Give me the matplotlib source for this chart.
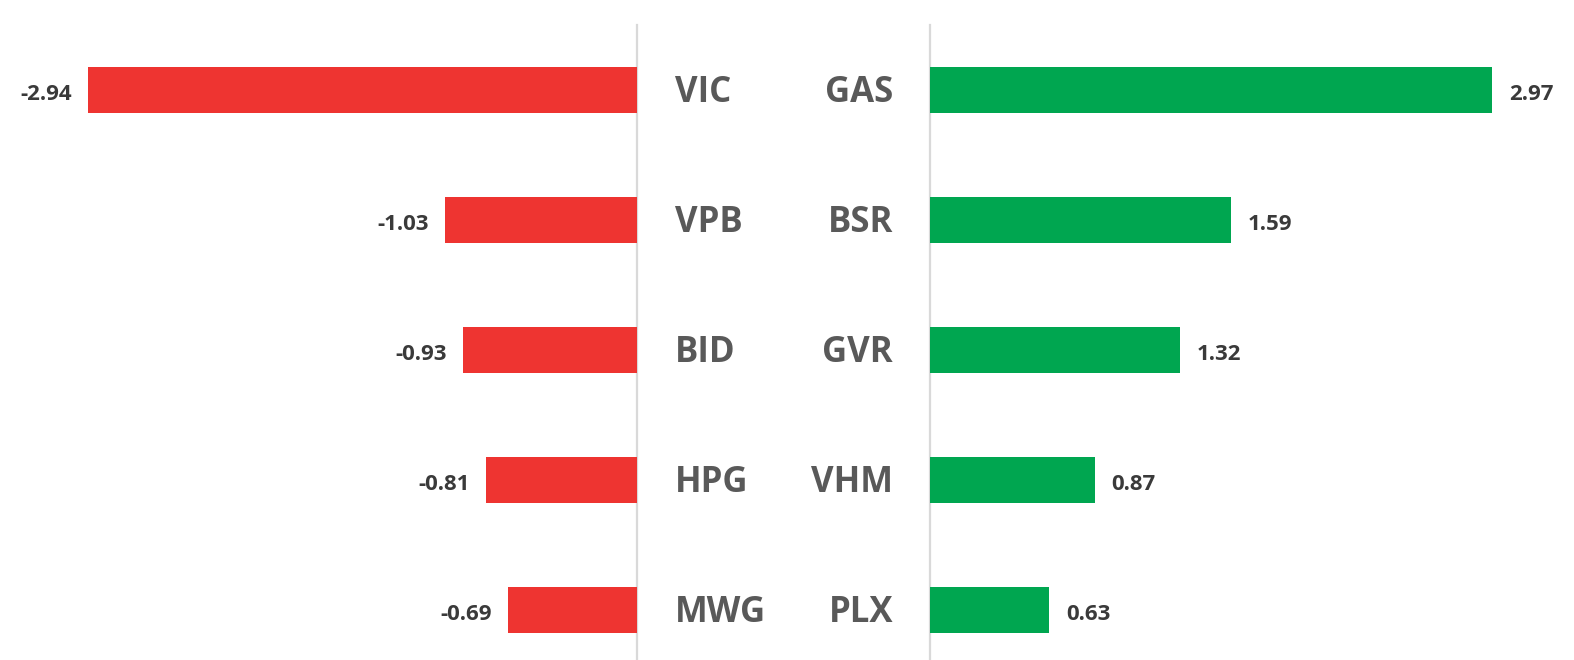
import matplotlib.pyplot as plt

# #################### Data #################### #
losers = ['VIC', 'VPB', 'BID', 'HPG', 'MWG']
loser_values = [-2.94, -1.03, -0.93, -0.81, -0.69]
gainers = ['GAS', 'BSR', 'GVR', 'VHM', 'PLX']
gainer_values = [2.97, 1.59, 1.32, 0.87, 0.63]

RED = '#EE3431'
GREEN = '#00A650'
LABEL_GRAY = '#595959'
VALUE_GRAY = '#3a3a3a'
LINE_GRAY = '#d9d9d9'

plt.rcParams['font.family'] = ['Open Sans', 'DejaVu Sans']

W, H = 1574, 660
fig = plt.figure(figsize=(W / 100, H / 100), dpi=100)

# pixel geometry of the two panels
left_zero = 637      # where red bars start
right_zero = 930     # where green bars start
px_left = 186.7      # pixels per unit, left
px_right = 189.3     # pixels per unit, right
first_center, step = 90, 130
ylim = ((H - first_center) / step, -first_center / step)

ax_l = fig.add_axes([0, 0, left_zero / W, 1])
ax_r = fig.add_axes([right_zero / W, 0, (W - right_zero) / W, 1])

ax_l.set_xlim(-left_zero / px_left, 0)
ax_r.set_xlim(0, (W - right_zero) / px_right)

bar_h = 46 / step
ax_l.barh(range(len(losers)), loser_values, height=bar_h, color=RED)
ax_r.barh(range(len(gainers)), gainer_values, height=bar_h, color=GREEN)

line_top = 1 - 25 / H
for ax in (ax_l, ax_r):
    ax.set_ylim(*ylim)
    ax.axis('off')
    ax.axvline(0, ymin=0, ymax=line_top, color=LINE_GRAY, lw=1.6,
               clip_on=False, zorder=0)

# labels and values
for i, (name, v) in enumerate(zip(losers, loser_values)):
    ax_l.annotate(name, (0, i), xytext=(38, -12), textcoords='offset pixels',
                  ha='left', va='baseline', fontsize=25, fontweight='bold',
                  color=LABEL_GRAY, annotation_clip=False)
    ax_l.annotate(f'{v:.2f}', (v, i), xytext=(-16, -10), textcoords='offset pixels',
                  ha='right', va='baseline', fontsize=16, fontweight='bold',
                  color=VALUE_GRAY)

for i, (name, v) in enumerate(zip(gainers, gainer_values)):
    ax_r.annotate(name, (0, i), xytext=(-37, -12), textcoords='offset pixels',
                  ha='right', va='baseline', fontsize=25, fontweight='bold',
                  color=LABEL_GRAY, annotation_clip=False)
    ax_r.annotate(f'{v:.2f}', (v, i), xytext=(17, -10), textcoords='offset pixels',
                  ha='left', va='baseline', fontsize=16, fontweight='bold',
                  color=VALUE_GRAY)

plt.savefig('out.png', dpi=100)
